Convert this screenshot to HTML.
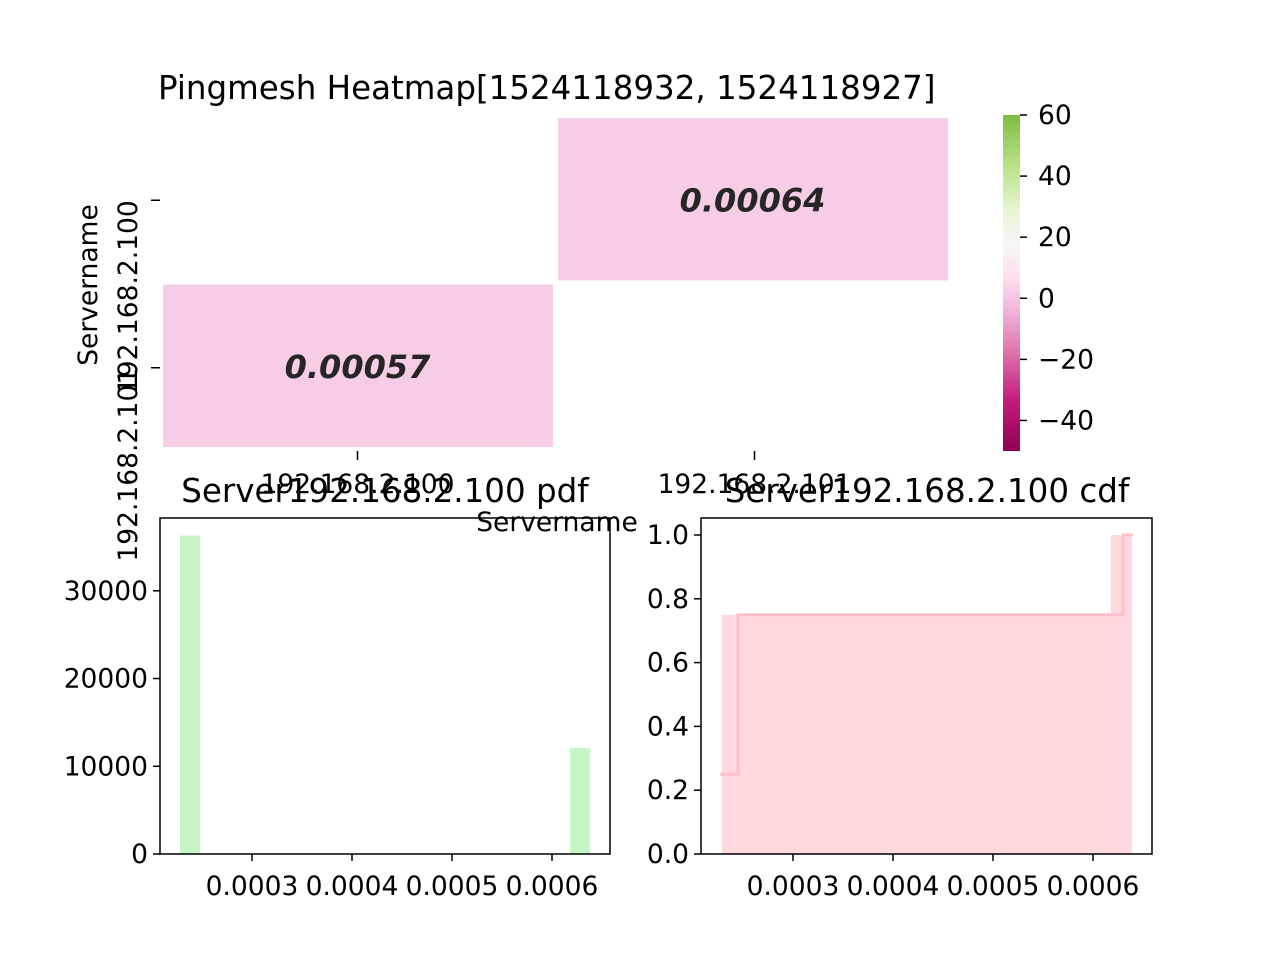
<!DOCTYPE html>
<html><head><meta charset="utf-8"><style>
html,body{margin:0;padding:0;background:#fff}
svg{display:block;font-family:"DejaVu Sans","Liberation Sans",sans-serif}
</style></head><body>
<svg id="fig" width="1280" height="960" xmlns="http://www.w3.org/2000/svg">
<rect width="1280" height="960" fill="#fff"/>
<defs><linearGradient id="cb" x1="0" y1="1" x2="0" y2="0">
<stop offset="0" stop-color="#8e0152"/><stop offset="0.15" stop-color="#c51b7d"/><stop offset="0.3" stop-color="#de77ae"/><stop offset="0.42" stop-color="#f1b6da"/><stop offset="0.52" stop-color="#fde0ef"/><stop offset="0.62" stop-color="#f7f7f7"/><stop offset="0.72" stop-color="#e6f5d0"/><stop offset="0.85" stop-color="#b8e186"/><stop offset="1" stop-color="#7fbc41"/>
</linearGradient></defs>
<g id="heat"></g>
<g id="pdf"></g>
<g id="cdf"></g>
</svg>
<script>
const NS="http://www.w3.org/2000/svg";
function mk(p,t,a,txt){const e=document.createElementNS(NS,t);for(const k in a)e.setAttribute(k,a[k]);if(txt!==undefined)e.textContent=txt;p.appendChild(e);return e;}
// ---- heatmap data ----
const servers=["192.168.2.100","192.168.2.101"];
const rowsLabels=["192.168.2.100","192.168.2.101"];
const heatValues=[[null,0.00064],[0.00057,null]];
const cbTicks=[-40,-20,0,20,40,60];
// ---- pdf data ----
const pdfBinStarts=[0.000228,0.000618];
const pdfBinWidth=0.00002;
const pdfCounts=[36300,12100];
const pdfYTicks=[0,10000,20000,30000];
const xTicks=[0.0003,0.0004,0.0005,0.0006];
// ---- cdf data ----
const cdfFillX=[0.000229,0.000618,0.000639];
const cdfFillY=[0.75,1.0];
const cdfLineX=[0.000227,0.000245,0.00063,0.00064];
const cdfLineY=[0.25,0.75,1.0];
const cdfYTicks=[0,0.2,0.4,0.6,0.8,1.0];

const FS=26.5, TS=32.5;
const H=document.getElementById('heat');
const hx0=160,hx1=950,hy0=117,hy1=450;
const cw=(hx1-hx0)/servers.length,ch=(hy1-hy0)/rowsLabels.length;
heatValues.forEach((row,i)=>row.forEach((v,j)=>{
  if(v===null)return;
  const c=mk(H,'rect',{x:hx0+j*cw+3,y:hy0+i*ch+1,width:cw-5,height:ch-4,fill:'#f6cde4'});
  
  
  const t=mk(H,'text',{x:hx0+j*cw+cw/2,y:hy0+i*ch+ch/2+11,'text-anchor':'middle','font-size':'32','font-weight':'bold','font-style':'italic',fill:'#262626'},v.toFixed(5));
  
  
}));
servers.forEach((s,j)=>{const x=hx0+j*cw+cw/2+(j?2:0);
  mk(H,'line',{x1:x,x2:x,y1:451,y2:460,stroke:'#000','stroke-width':1.5});
  const t=mk(H,'text',{x:x,y:493,'text-anchor':'middle','font-size':FS},s);
  
  });
rowsLabels.forEach((s,i)=>{const y=hy0+i*ch+ch/2+(i?1:0);
  mk(H,'line',{x1:151,x2:160,y1:y,y2:y,stroke:'#000','stroke-width':1.5});
  const t=mk(H,'text',{x:0,y:0,transform:`translate(137,${y}) rotate(-90)`,'text-anchor':'end','font-size':FS},s);
  
  });
mk(H,'text',{x:0,y:0,transform:'translate(97,285) rotate(-90)','text-anchor':'middle','font-size':FS},'Servername');
mk(H,'text',{x:557,y:531,'text-anchor':'middle','font-size':FS},'Servername');
mk(H,'text',{x:158,y:99,'font-size':TS},'Pingmesh Heatmap[1524118932, 1524118927]');
const cbY=v=>451-(v+50)/110*336;
mk(H,'rect',{x:1003,y:115,width:17,height:336,fill:'url(#cb)'});
cbTicks.forEach(v=>{const y=cbY(v);
  mk(H,'line',{x1:1020,x2:1027,y1:y,y2:y,stroke:'#000','stroke-width':1.5});
  mk(H,'text',{x:1038,y:y+9,'font-size':FS},v<0?'\u2212'+(-v):String(v));});

function axes(G,x0,x1,y0,y1,xmin,xmax,ymin,ymax,yTicks,yfmt){
  const X=v=>x0+(v-xmin)/(xmax-xmin)*(x1-x0);
  const Y=v=>y1-(v-ymin)/(ymax-ymin)*(y1-y0);
  return {X,Y,draw(){
    mk(G,'rect',{x:x0,y:y0,width:x1-x0,height:y1-y0,fill:'none',stroke:'#000','stroke-width':1.5});
    xTicks.forEach(v=>{const x=X(v);mk(G,'line',{x1:x,x2:x,y1:y1,y2:y1+7,stroke:'#000','stroke-width':1.5});
      mk(G,'text',{x:x,y:y1+41,'text-anchor':'middle','font-size':FS},v.toFixed(4));});
    yTicks.forEach(v=>{const y=Y(v);mk(G,'line',{x1:x0-7,x2:x0,y1:y,y2:y,stroke:'#000','stroke-width':1.5});
      mk(G,'text',{x:x0-12,y:y+9,'text-anchor':'end','font-size':FS},yfmt(v));});
  }};
}
const P=document.getElementById('pdf');
const pa=axes(P,160,610,518,854,0.000208,0.000658,0,38300,pdfYTicks,v=>String(v));
pdfCounts.forEach((c,i)=>{const x=pa.X(pdfBinStarts[i]),w=pa.X(pdfBinStarts[i]+pdfBinWidth)-x;
  const r=mk(P,'rect',{x:x,y:pa.Y(c),width:w,height:pa.Y(0)-pa.Y(c),fill:'#c6f5c6'});
  
  });
pa.draw();
mk(P,'text',{x:385,y:502,'text-anchor':'middle','font-size':TS},'Server192.168.2.100 pdf');
const C=document.getElementById('cdf');
const ca=axes(C,701,1152,518,854,0.000208,0.000659,0,1.0533,cdfYTicks,v=>v.toFixed(1));
cdfFillY.forEach((v,i)=>{const x=ca.X(cdfFillX[i]),w=ca.X(cdfFillX[i+1])-x;
  const r=mk(C,'rect',{x:x,y:ca.Y(v),width:w,height:ca.Y(0)-ca.Y(v),fill:'#ffd9de'});
  
  });
let d='';cdfLineY.forEach((v,i)=>{d+=(i?'L':'M')+ca.X(cdfLineX[i])+','+ca.Y(v)+'L'+ca.X(cdfLineX[i+1])+','+ca.Y(v);});
const ln=mk(C,'path',{d:d,fill:'none',stroke:'#ffc0cb','stroke-width':3});


ca.draw();
mk(C,'text',{x:927,y:502,'text-anchor':'middle','font-size':TS},'Server192.168.2.100 cdf');
</script>
</body></html>
